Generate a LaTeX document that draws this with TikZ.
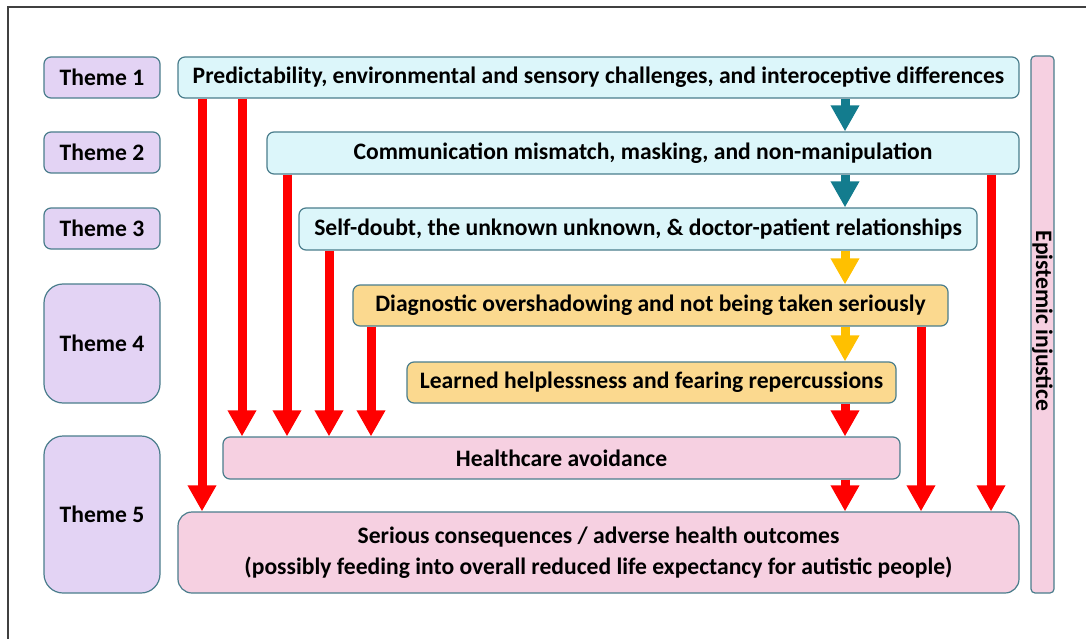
\documentclass[tikz,border=0pt]{standalone}
\usepackage{fontspec}
\setmainfont{Carlito}
\usetikzlibrary{arrows.meta}
\definecolor{edge}{HTML}{4A7D8C}
\definecolor{lilac}{HTML}{E3D3F4}
\definecolor{aqua}{HTML}{DCF6FA}
\definecolor{sand}{HTML}{FBD98F}
\definecolor{blush}{HTML}{F6D0E1}
\definecolor{tealarrow}{HTML}{137C8E}
\definecolor{goldarrow}{HTML}{FFC000}
\tikzstyle{theme} = [draw=edge, line width=1.2pt, fill=lilac, rounded corners=7pt,
    minimum width=116pt, minimum height=41pt, inner sep=0pt]
\tikzstyle{box} = [draw=edge, line width=1.2pt, rounded corners=7pt,
    minimum height=41pt, inner sep=0pt]
\tikzstyle{flow} = [line width=9pt, -{Triangle[width=27pt,length=26pt]}]

\begin{document}
\begin{tikzpicture}[x=1pt, y=-1pt, every node/.style={font=\fontsize{23.6}{31}\selectfont\bfseries}]
    \useasboundingbox (0,0) rectangle (1086,639);
    \draw [line width=1.3pt, black!75] (8,639) -- (8,7) -- (1086,7);
    % theme labels
    \node [theme] (theme1) at (102,77.5) {Theme 1};
    \node [theme] (theme2) at (102,152.5) {Theme 2};
    \node [theme] (theme3) at (102,228.5) {Theme 3};
    \node [theme, minimum height=119pt, rounded corners=19pt] (theme4) at (102,343.5) {Theme 4};
    \node [theme, minimum height=157pt, rounded corners=19pt] (theme5) at (102,514.5) {Theme 5};
    % findings
    \node [box, fill=aqua, minimum width=841pt] (predict) at (598.5,77.5)
        {Predictability, environmental and sensory challenges, and interoceptive differences};
    \node [box, fill=aqua, minimum width=752pt, minimum height=42pt] (comm) at (643,153)
        {Communication mismatch, masking, and non-manipulation};
    \node [box, fill=aqua, minimum width=678pt, minimum height=42pt] (doubt) at (638,229)
        {Self-doubt, the unknown unknown, \& doctor-patient relationships};
    \node [box, fill=sand, minimum width=595pt] (diag) at (650.5,305.5)
        {Diagnostic overshadowing and not being taken seriously};
    \node [box, fill=sand, minimum width=489pt] (learned) at (651.5,382.5)
        {Learned helplessness and fearing repercussions};
    \node [box, fill=blush, minimum width=677pt, minimum height=42pt] (avoid) at (561.5,458)
        {Healthcare avoidance};
    \node [box, fill=blush, minimum width=841pt, minimum height=81pt, rounded corners=14pt, align=center] (serious) at (598.5,552.5)
        {Serious consequences / adverse health outcomes\\(possibly feeding into overall reduced life expectancy for autistic people)};
    \node [draw=edge, line width=1.2pt, fill=blush, rounded corners=4pt, minimum width=23pt,
        minimum height=537pt, inner sep=0pt] (epist) at (1042.5,324.5) {};
    \node [rotate=-90] (epistlabel) at (1042.5,321) {Epistemic injustice};
    % chain down the right
    \draw [flow, tealarrow] (predict.south -| 845,0) -- (comm.north -| 845,0);
    \draw [flow, tealarrow] (comm.south -| 845,0) -- (doubt.north -| 845,0);
    \draw [flow, goldarrow] (doubt.south -| 845,0) -- (diag.north -| 845,0);
    \draw [flow, goldarrow] (diag.south -| 845,0) -- (learned.north -| 845,0);
    \draw [flow, red] (learned.south -| 845,0) -- (avoid.north -| 845,0);
    \draw [flow, red] (avoid.south -| 845,0) -- (serious.north -| 845,0);
    % direct links
    \draw [flow, red] (predict.south -| 202,0) -- (serious.north -| 202,0);
    \draw [flow, red] (predict.south -| 242,0) -- (avoid.north -| 242,0);
    \draw [flow, red] (comm.south -| 287,0) -- (avoid.north -| 287,0);
    \draw [flow, red] (comm.south -| 991,0) -- (serious.north -| 991,0);
    \draw [flow, red] (doubt.south -| 329,0) -- (avoid.north -| 329,0);
    \draw [flow, red] (diag.south -| 371,0) -- (avoid.north -| 371,0);
    \draw [flow, red] (diag.south -| 921,0) -- (serious.north -| 921,0);
\end{tikzpicture}
\end{document}
